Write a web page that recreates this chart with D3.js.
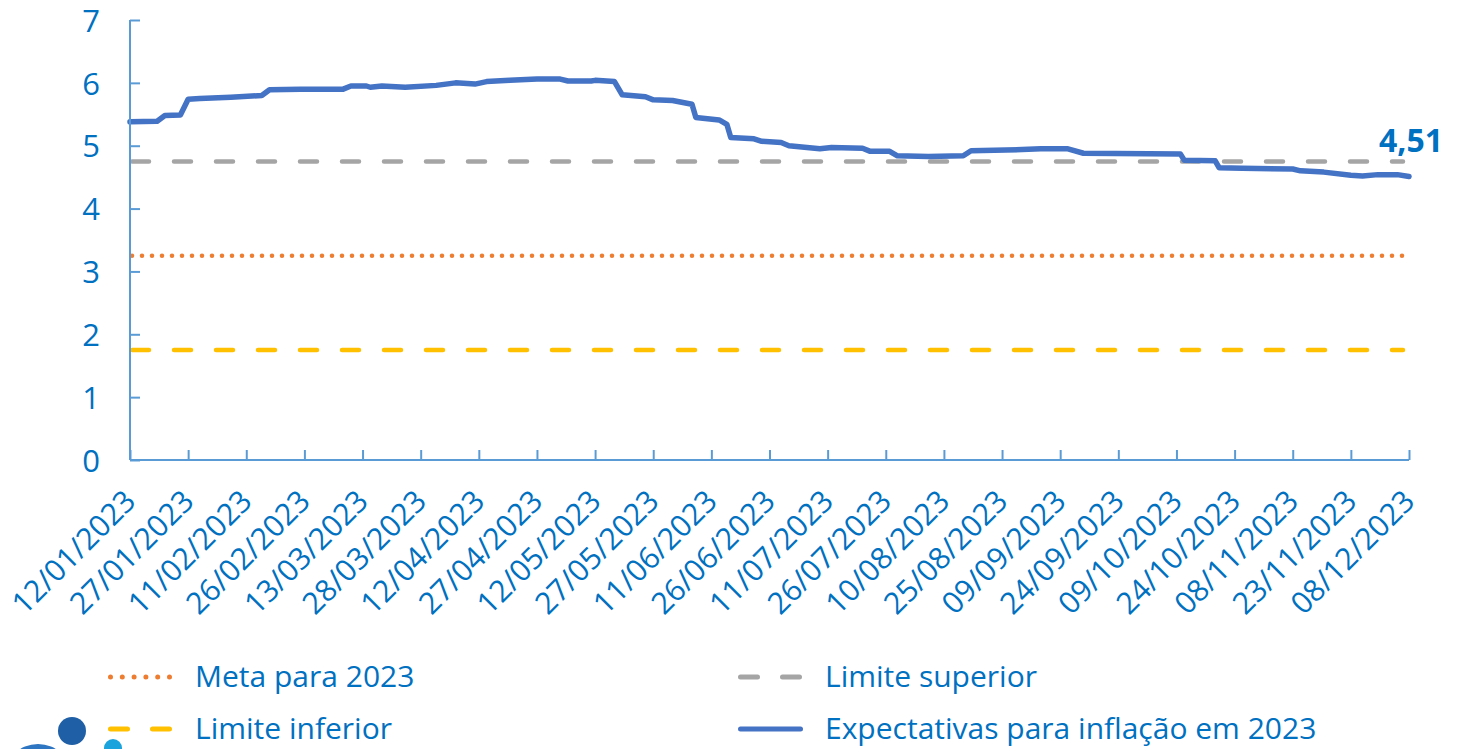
<!DOCTYPE html>
<html>
<head>
<meta charset="utf-8">
<script src="https://cdn.jsdelivr.net/npm/d3@7"></script>
<style>
  html, body { margin: 0; padding: 0; background: #fff; }
  svg { display: block; }
</style>
</head>
<body>
<svg id="chart" width="1457" height="749"></svg>
<script>
// ---- data ----
const dates = ["2023-01-12","2023-01-19","2023-01-21","2023-01-25","2023-01-27","2023-01-30","2023-02-07","2023-02-15","2023-02-17","2023-02-25","2023-03-08","2023-03-10","2023-03-14","2023-03-15","2023-03-18","2023-03-24","2023-04-01","2023-04-06","2023-04-11","2023-04-14","2023-04-20","2023-04-27","2023-05-03","2023-05-05","2023-05-11","2023-05-12","2023-05-17","2023-05-19","2023-05-25","2023-05-27","2023-06-01","2023-06-06","2023-06-07","2023-06-13","2023-06-15","2023-06-16","2023-06-22","2023-06-24","2023-06-29","2023-07-01","2023-07-09","2023-07-12","2023-07-20","2023-07-22","2023-07-27","2023-07-29","2023-08-06","2023-08-15","2023-08-17","2023-08-26","2023-09-04","2023-09-11","2023-09-15","2023-10-10","2023-10-11","2023-10-19","2023-10-20","2023-10-26","2023-11-08","2023-11-10","2023-11-16","2023-11-23","2023-11-26","2023-11-30","2023-12-05","2023-12-08"];
const expectativas = [5.38,5.39,5.48,5.49,5.74,5.75,5.77,5.80,5.89,5.90,5.90,5.95,5.95,5.93,5.95,5.93,5.96,6.00,5.98,6.02,6.04,6.06,6.06,6.03,6.03,6.04,6.02,5.81,5.78,5.73,5.72,5.66,5.45,5.41,5.34,5.13,5.11,5.07,5.05,5.00,4.95,4.97,4.96,4.91,4.91,4.84,4.83,4.84,4.92,4.93,4.95,4.95,4.88,4.87,4.77,4.76,4.65,4.64,4.63,4.60,4.58,4.53,4.52,4.54,4.54,4.51];
const meta = 3.25;
const limiteSuperior = 4.75;
const limiteInferior = 1.75;
const tickLabels = ["12/01/2023","27/01/2023","11/02/2023","26/02/2023","13/03/2023","28/03/2023","12/04/2023","27/04/2023","12/05/2023","27/05/2023","11/06/2023","26/06/2023","11/07/2023","26/07/2023","10/08/2023","25/08/2023","09/09/2023","24/09/2023","09/10/2023","24/10/2023","08/11/2023","23/11/2023","08/12/2023"];
const yTicks = [0,1,2,3,4,5,6,7];
const lastLabel = "4,51";
const legendItems = ["Meta para 2023","Limite superior","Limite inferior","Expectativas para inflação em 2023"];

// ---- setup ----
(function () {
const parse = d3.timeParse("%Y-%m-%d");
const parseTick = d3.timeParse("%d/%m/%Y");
const series = dates.map((d, i) => ({ date: parse(d), value: expectativas[i] }));
const tickDates = tickLabels.map(t => parseTick(t));

const svg = d3.select("#chart");
const FONT = "'Open Sans', 'DejaVu Sans', sans-serif";
const TEXT = "#0070C0";
const AXIS = "#5B9BD5";

const mLeft = 130, mRight = 1409, mTop = 20, mBottom = 460;
const x = d3.scaleTime().domain([tickDates[0], tickDates[tickDates.length - 1]]).range([mLeft, mRight]);
const y = d3.scaleLinear().domain([0, 7]).range([mBottom, mTop]);

// helper: font size so that a text gets a target width
function fitSize(str, target, weight) {
  const t = svg.append("text").attr("font-family", FONT).attr("font-size", 100)
    .attr("font-weight", weight || "normal").text(str);
  const w = t.node().getComputedTextLength();
  t.remove();
  return 100 * target / w;
}
const tickFS = Math.min(32, fitSize(tickLabels[0], 160));
const legendFS = Math.min(30, fitSize(legendItems[3], 505));

// reference lines
const xEnd = x.range()[1] - 6;
function hline(v, color, dash, width) {
  svg.append("line")
    .attr("x1", mLeft + 2).attr("x2", xEnd)
    .attr("y1", y(v)).attr("y2", y(v))
    .attr("stroke", color).attr("stroke-width", width)
    .attr("stroke-dasharray", dash).attr("stroke-linecap", "round");
}
hline(limiteInferior, "#FFC000", "17,25", 4.5);
hline(meta, "#ED7D31", "0,10", 4.5);
hline(limiteSuperior, "#A5A5A5", "17,25", 4.5);

// main series
const line = d3.line().x(d => x(d.date)).y(d => y(d.value)).curve(d3.curveLinear);
svg.append("path").datum(series)
  .attr("d", line)
  .attr("fill", "none").attr("stroke", "#4472C4").attr("stroke-width", 5.5)
  .attr("stroke-linejoin", "round").attr("stroke-linecap", "round");

// axes
const yAxis = d3.axisLeft(y).tickValues(yTicks).tickSize(-10).tickPadding(30).tickFormat(d3.format("d"));
const gy = svg.append("g").attr("transform", `translate(${mLeft},0)`).call(yAxis);
gy.select(".domain").attr("stroke", AXIS).attr("stroke-width", 2).attr("d", `M0,${mTop}V${mBottom}`);
gy.selectAll(".tick line").attr("stroke", AXIS).attr("stroke-width", 2);
gy.selectAll(".tick text").attr("fill", TEXT).attr("font-family", FONT).attr("font-size", 31).attr("dy", "0.36em");

const xAxis = d3.axisBottom(x).tickValues(tickDates).tickSize(-10).tickFormat((d, i) => tickLabels[i]);
const gx = svg.append("g").attr("transform", `translate(0,${mBottom})`).call(xAxis);
gx.select(".domain").attr("stroke", AXIS).attr("stroke-width", 2).attr("d", `M${mLeft},0H${mRight}`);
gx.selectAll(".tick line").attr("stroke", AXIS).attr("stroke-width", 2);
gx.selectAll(".tick text")
  .attr("fill", TEXT).attr("font-family", FONT).attr("font-size", tickFS)
  .attr("text-anchor", "end")
  .attr("transform", "translate(7,43) rotate(-45)")
  .attr("x", 0).attr("y", 0).attr("dy", 0);

// last value label
svg.append("text").attr("x", 1443).attr("y", 152)
  .attr("text-anchor", "end").attr("fill", TEXT)
  .attr("font-family", FONT).attr("font-weight", "bold").attr("font-size", 32)
  .text(lastLabel);

// legend
const lg = svg.append("g");
const legendPos = [[108, 677], [738, 677], [108, 729], [738, 729]];
const styles = [
  { c: "#ED7D31", dash: "0,11.8", w: 5 },
  { c: "#A5A5A5", dash: "17,25", w: 5 },
  { c: "#FFC000", dash: "17,25", w: 5 },
  { c: "#4472C4", dash: null, w: 5 }
];
legendItems.forEach((t, i) => {
  const [lx, ly] = legendPos[i];
  const s = styles[i];
  lg.append("line").attr("x1", lx + 2.5).attr("x2", lx + 65 - 2.5).attr("y1", ly).attr("y2", ly)
    .attr("stroke", s.c).attr("stroke-width", s.w).attr("stroke-linecap", "round")
    .attr("stroke-dasharray", s.dash);
  lg.append("text").attr("x", lx + 87).attr("y", ly).attr("dy", "0.34em")
    .attr("fill", TEXT).attr("font-family", FONT).attr("font-size", legendFS).text(t);
});

// decorative circles (logo fragment)
svg.append("circle").attr("cx", 38).attr("cy", 778).attr("r", 34).attr("fill", "#2E75C2");
svg.append("circle").attr("cx", 72).attr("cy", 731).attr("r", 14).attr("fill", "#1F5FA6");
svg.append("circle").attr("cx", 113).attr("cy", 748).attr("r", 9).attr("fill", "#1BA3DD");
})();
</script>
</body>
</html>
